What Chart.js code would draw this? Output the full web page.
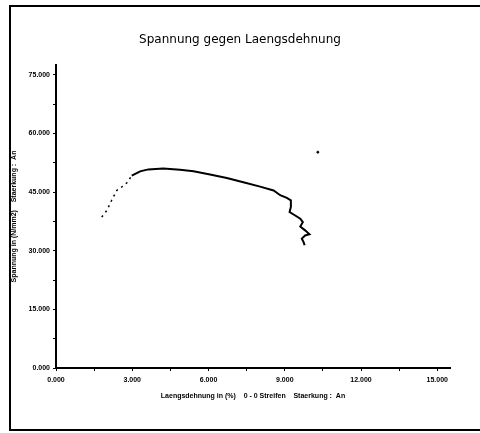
<!DOCTYPE html>
<html>
<head>
<meta charset="utf-8">
<script src="https://cdn.jsdelivr.net/npm/chart.js@4/dist/chart.umd.min.js"></script>
<style>
  html, body { margin: 0; background: #fff; overflow: hidden; }
  #wrap { position: relative; width: 480px; height: 433px; overflow: hidden; }
  canvas { position: absolute; left: 0; top: 0; }
</style>
</head>
<body>
<div id="wrap">
  <canvas id="myChart" width="480" height="433"></canvas>
</div>
<script>
// Laengsdehnung (%) / Spannung (N/mm2)
var strain = [1.80, 2.00, 2.19, 2.39, 2.59, 2.78, 2.98, 3.31, 3.63, 4.22, 4.88, 5.41, 6.06, 6.72, 7.37, 8.03,
              8.56, 8.82, 9.08, 9.24, 9.24, 9.19, 9.41, 9.61, 9.71, 9.61, 9.80, 9.97, 9.80, 9.67, 9.74, 9.78];
var stress = [38.6, 40.3, 42.9, 45.4, 46.3, 47.3, 49.2, 50.3, 50.8, 51.0, 50.7, 50.3, 49.5, 48.6, 47.5, 46.4,
              45.4, 44.2, 43.5, 42.9, 41.2, 39.9, 39.0, 38.2, 37.3, 36.2, 35.2, 34.2, 33.9, 33.1, 32.2, 31.4];
var strayX = [10.3];
var strayY = [55.2];

var xTicks = [0, 3, 6, 9, 12, 15];
var yTicks = [0, 15, 30, 45, 60, 75];

var curve = strain.map(function(v, i){ return {x: v, y: stress[i]}; });
var stray = strayX.map(function(v, i){ return {x: v, y: strayY[i]}; });

// major ticks plus the half-step minor marks
function withMinor(list){
	var out = [];
	for (var i = 0; i < list.length; i++) {
		out.push(list[i]);
		if (i < list.length - 1) out.push((list[i] + list[i+1]) / 2);
	}
	return out;
}

// page frame (top, left, bottom only), like the scanned sheet
var framePlugin = {
	id : 'frame',
	beforeDraw : function(chart){
		var c = chart.ctx;
		c.save();
		c.strokeStyle = '#000';
		c.lineWidth = 2;
		c.beginPath();
		c.moveTo(480, 6);
		c.lineTo(10, 6);
		c.lineTo(10, 430);
		c.lineTo(480, 430);
		c.stroke();
		c.restore();
	}
};

var tickFont = { family: 'Liberation Sans', size: 7, weight: 'bold' };

var ctx = document.getElementById('myChart');
var myChart = new Chart(ctx, {
	type : 'scatter',
	data : {
		datasets : [ {
			data : curve,
			showLine : true,
			borderColor : '#000',
			borderWidth : 2,
			pointRadius : 0,
			tension : 0,
			segment : {
				borderDash : function(c){ return c.p0DataIndex < 6 ? [2, 4] : undefined; },
				borderWidth : function(c){ return c.p0DataIndex < 6 ? 1.5 : 2; }
			}
		}, {
			data : stray,
			pointRadius : 1,
			backgroundColor : '#000',
			borderColor : '#000'
		} ]
	},
	plugins : [ framePlugin ],
	options : {
		responsive : false,
		animation : false,
		layout : { padding : 0 },
		plugins : {
			legend : { display : false },
			tooltip : { enabled : false },
			title : {
				display : true,
				text : 'Spannung gegen Laengsdehnung',
				color : '#000',
				font : { family : 'DejaVu Sans', size : 12, weight : 'normal', lineHeight : 1.2 },
				padding : { top : 33, bottom : 17.6 }
			}
		},
		scales : {
			x : {
				type : 'linear',
				min : 0,
				max : 15.5,
				afterBuildTicks : function(s){ s.ticks = withMinor(xTicks).map(function(v){ return {value : v}; }); },
				afterFit : function(s){ s.height = 65; },
				grid : { drawOnChartArea : false, drawTicks : true, tickLength : 3, color : '#000', lineWidth : 1 },
				border : { display : true, color : '#000', width : 2 },
				ticks : {
					autoSkip : false,
					maxRotation : 0,
					color : '#000',
					font : tickFont,
					padding : 5,
					callback : function(v){ return xTicks.indexOf(v) >= 0 ? v.toFixed(3) : ''; }
				},
				title : {
					display : true,
					text : 'Laengsdehnung in (%)    0 - 0 Streifen    Staerkung :  An',
					color : '#000',
					font : { family : 'Liberation Sans', size : 7, weight : 'bold' },
					padding : { top : 0, bottom : 33 }
				}
			},
			y : {
				type : 'linear',
				min : 0,
				max : 77.5,
				afterBuildTicks : function(s){ s.ticks = withMinor(yTicks).map(function(v){ return {value : v}; }); },
				afterFit : function(s){ s.width = 56; },
				grid : { drawOnChartArea : false, drawTicks : true, tickLength : 3, color : '#000', lineWidth : 1 },
				border : { display : true, color : '#000', width : 2 },
				ticks : {
					autoSkip : false,
					color : '#000',
					font : tickFont,
					padding : 3,
					callback : function(v){ return yTicks.indexOf(v) >= 0 ? v.toFixed(3) : ''; }
				},
				title : {
					display : true,
					text : 'Spannung in (N/mm2)    Staerkung :  An',
					color : '#000',
					font : { family : 'Liberation Sans', size : 7, weight : 'bold' },
					padding : { top : 10, bottom : 0 }
				}
			},
			y2 : {
				position : 'right',
				display : true,
				afterFit : function(s){ s.width = 30; },
				grid : { display : false },
				border : { display : false },
				ticks : { display : false }
			}
		}
	}
});
</script>
</body>
</html>
